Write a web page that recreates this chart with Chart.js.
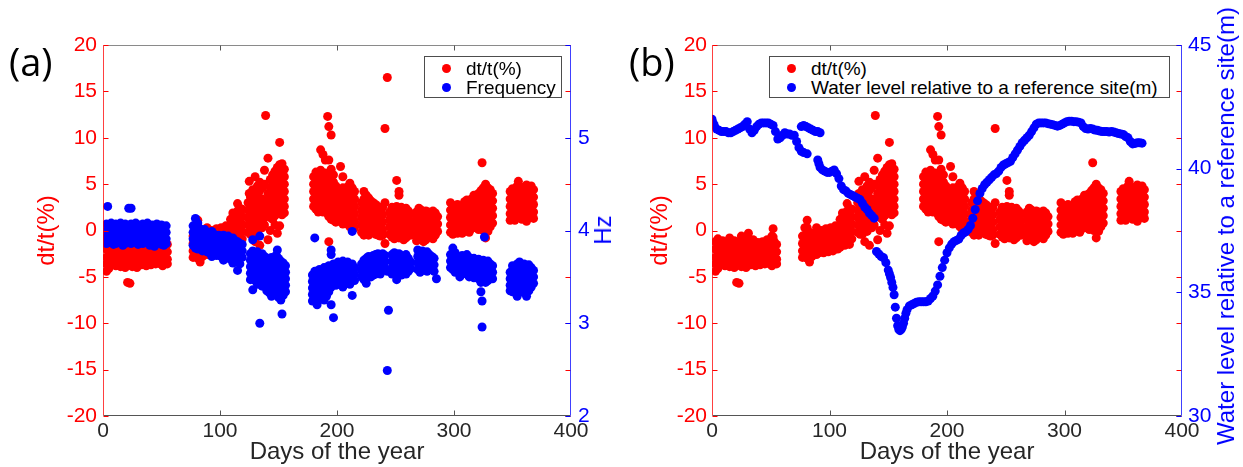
<!DOCTYPE html>
<html>
<head>
<meta charset="utf-8">
<script src="https://cdn.jsdelivr.net/npm/chart.js@4.4.1/dist/chart.umd.min.js"></script>
<style>
  body { margin: 0; background: #fff; width: 1243px; height: 467px; position: relative; overflow: hidden; font-family: 'Liberation Sans', Arial, sans-serif; }
  canvas { position: absolute; top: 0; }
  .panel { position: absolute; font-family: 'Open Sans', sans-serif; font-size: 38px; line-height: 38px; color: #000; }
  .legend { position: absolute; background: #fff; border: 1px solid #4d4d4d; font-size: 19px; color: #000; }
  .legend .row { position: absolute; left: 0; height: 19px; line-height: 19px; white-space: nowrap; padding-left: 41px; }
  .legend .dot { position: absolute; left: 17px; top: 5px; width: 9px; height: 9px; border-radius: 50%; }
  .ylab { position: absolute; font-size: 24px; line-height: 24px; white-space: nowrap; color: #0000ff; transform: translate(-50%, -50%) rotate(-90deg); }
</style>
</head>
<body>
<canvas id="chartA" width="620" height="467" style="left:0"></canvas>
<canvas id="chartB" width="623" height="467" style="left:620px"></canvas>

<div class="panel" style="left:9px;top:42px">(a)</div>
<div class="panel" style="left:629px;top:42px">(b)</div>

<div class="legend" style="left:424px;top:56px;width:136px;height:40px">
  <div class="row" style="top:2px"><span class="dot" style="background:#ff0000"></span>dt/t(%)</div>
  <div class="row" style="top:21px"><span class="dot" style="background:#0000ff"></span>Frequency</div>
</div>
<div class="legend" style="left:769px;top:56px;width:399px;height:40px">
  <div class="row" style="top:2px"><span class="dot" style="background:#ff0000"></span>dt/t(%)</div>
  <div class="row" style="top:21px"><span class="dot" style="background:#0000ff"></span>Water level relative to a reference site(m)</div>
</div>

<div class="ylab" style="left:603px;top:230px">Hz</div>
<div class="ylab" style="left:1226px;top:226px">Water level relative to a reference site(m)</div>

<script>
// dt/t (%) readings: [day, value, value, ...]
const dtJanFeb = [
  [3, -1.2, -2.0, -2.9, -3.6, -4.4], [5, -0.9, -1.7, -2.5, -3.3, -4.1], [7, -1.4, -2.2, -3.0, -3.7],
  [9, -1.1, -1.9, -2.7, -3.4], [11, -1.5, -2.3, -3.1, -3.8], [13, -1.2, -2.0, -2.8, -3.5],
  [15, -0.8, -1.6, -2.4, -3.2, -3.9], [17, -1.3, -2.1, -2.9, -3.6], [19, -1.1, -1.9, -2.7, -3.4, -4.0],
  [21, -1.4, -2.2, -3.0, -3.7, -5.6], [23, -1.2, -2.0, -2.8, -3.5, -5.7], [25, -0.6, -1.5, -2.3, -3.1, -3.9],
  [27, -1.3, -2.1, -2.9, -3.6], [29, -0.9, -1.7, -2.5, -3.3, -4.0], [31, -0.3, -1.2, -2.0, -2.8, -3.6],
  [33, -1.4, -2.2, -3.0, -3.7], [35, -1.0, -1.8, -2.6, -3.4], [37, -1.5, -2.3, -3.1, -3.8],
  [39, -1.3, -2.1, -2.9, -3.6], [41, -1.6, -2.4, -3.2, -3.7], [43, -1.2, -2.0, -2.8, -3.5],
  [45, -1.4, -2.2, -3.0, -3.6], [47, -1.0, -1.8, -2.6, -3.4], [49, -1.3, -2.1, -2.9, -3.6],
  [51, -0.6, -1.5, -2.3, -3.1, -3.8], [52, 0.2, -0.7], [53, -1.2, -2.0, -2.8, -3.5], [55, -1.5, -2.3, -3.1, -3.6]
];
const dtMarApr = [
  [77, -0.6, -1.4, -2.2, -2.9], [79, 0.3, -0.5, -1.2, -1.9, -2.6], [81, 1.1, 0.3, -0.6, -1.4, -2.2, -3.0],
  [83, -0.2, -1.0, -1.8, -2.6, -3.4], [85, -0.5, -1.3, -2.1, -2.8], [87, -0.3, -1.1, -1.9, -2.5],
  [89, 0.3, -0.5, -1.3, -2.1, -2.6], [91, -0.4, -1.2, -2.0, -2.4], [93, 0.0, -0.8, -1.6, -2.3],
  [95, -0.3, -1.1, -1.9, -2.4], [97, 0.2, -0.6, -1.4, -2.2], [99, -0.1, -0.9, -1.7, -2.3],
  [101, 0.3, -0.5, -1.3, -2.0], [103, 0.0, -0.8, -1.6, -2.2], [105, 0.5, -0.3, -1.1, -1.9],
  [107, 0.2, -0.6, -1.4, -2.0], [109, 1.2, 0.4, -0.4, -1.2, -1.8], [111, 1.9, 1.1, 0.3, -0.5, -1.3],
  [113, 1.5, 0.7, -0.1, -0.9, -1.6], [115, 2.9, 2.1, 1.3, 0.5, -0.3, -1.1], [117, 2.4, 1.6, 0.8, 0.0, -0.8, -1.5],
  [119, 2.3, 1.5, 0.7, -0.1, -0.9]
];
const dtMay = [
  [124, 3.0, 2.2, 1.4, 0.6, -0.2], [125, 5.3, 4.0], [126, 3.6, 2.8, 2.0, 1.2, 0.4, -0.4],
  [128, 4.4, 3.6, 2.8, 2.0, 1.2, 0.4, -0.4], [130, 5.8, 4.0, 3.2, 2.4, 1.6, 0.8, 0.0, -1.2],
  [132, 4.8, 3.9, 3.1, 2.3, 1.5, 0.7, -0.1], [134, 5.2, 4.3, 3.5, 2.7, 1.9, 1.1, 0.3, -1.6],
  [136, 4.6, 3.4, 2.6, 1.8, 1.0, 0.3], [138, 6.5, 5.0, 3.0, 2.2, 1.4, 0.6], [139, 12.4],
  [141, 7.8, 4.0, 3.2, 2.4, 1.6, -1.0], [143, 5.5, 4.6, 3.8, 3.0, 2.2, 1.4, 0.0],
  [145, 6.0, 5.2, 4.4, 3.6, 2.8, 2.0, 1.2], [147, 6.4, 5.6, 4.8, 4.0, 3.2, 2.4, 1.6, 0.6],
  [149, 6.8, 6.0, 5.2, 4.4, 3.6, 2.8, 2.0, -0.3], [151, 9.5, 7.1, 6.3, 5.5, 4.7, 3.9, 3.1, 2.3, 0.5],
  [153, 7.2, 6.4, 5.6, 4.8, 4.0, 3.2, 2.4, 1.7], [155, 6.6, 5.8, 5.0, 4.2, 3.4, 2.6, 1.9]
];
const dtJul = [
  [180, 5.8, 5.0, 4.2, 3.4, 2.6], [182, 6.3, 5.5, 4.7, 3.9, 3.1, 2.3], [184, 6.0, 5.2, 4.4, 3.6, 2.8, 2.0],
  [186, 8.7, 6.5, 5.7, 4.9, 4.1, 3.3, 2.5], [188, 8.2, 6.0, 5.2, 4.4, 3.6, 2.8, 2.0],
  [190, 7.6, 6.2, 5.4, 4.6, 3.8, 3.0, 2.2], [192, 12.3, 5.8, 5.0, 4.2, 3.4, 2.6, 1.8], [193, 11.2, 7.6, 1.5, -1.2],
  [195, 10.3, 6.6, 5.4, 4.6, 3.8, 3.0, 2.2, 1.2], [197, 6.0, 5.2, 4.4, 3.6, 2.8, 2.0, 1.1],
  [199, 4.8, 4.0, 3.2, 2.4, 1.6, 0.9], [201, 4.4, 3.6, 2.8, 2.0, 1.2], [203, 6.9, 4.2, 3.4, 2.6, 1.8, 1.0],
  [205, 5.8, 4.6, 3.8, 3.0, 2.2, 1.4, 0.7], [207, 4.3, 3.5, 2.7, 1.9, 1.1], [209, 4.7, 3.9, 3.1, 2.3, 1.5, 0.7],
  [211, 5.1, 4.3, 3.5, 2.7, 1.9, 1.1, 0.4], [213, 4.6, 3.8, 3.0, 2.2, 1.4, 0.6, 0.1], [215, 4.2, 3.4, 2.6, 1.8, 1.0, 0.3]
];
const dtAug = [
  [221, 3.0, 2.2, 1.4, 0.6, -0.2], [223, 4.2, 3.4, 2.6, 1.8, 1.0, 0.2, -0.5], [225, 3.8, 3.0, 2.2, 1.4, 0.6, -0.2],
  [227, 3.5, 2.7, 1.9, 1.1, 0.3, -0.5], [229, 3.2, 2.4, 1.6, 0.8, 0.0], [231, 3.0, 2.2, 1.4, 0.6, -0.2],
  [233, 2.8, 2.0, 1.2, 0.4, -0.4], [235, 2.6, 1.8, 1.0, 0.2, -0.5], [237, 2.4, 1.6, 0.8, 0.0, -0.6],
  [239, 2.5, 1.7, 0.9, 0.1, -0.5], [241, 11.0, 3.0, -1.4], [243, 16.5]
];
const dtSep = [
  [245, 2.0, 1.2, 0.4, -0.4], [247, 2.5, 1.7, 0.9, 0.1, -0.7], [249, 2.2, 1.4, 0.6, -0.2, -0.9],
  [251, 5.4, 2.6, 1.8, 1.0, 0.2, -0.6], [253, 4.2, 3.8, 2.3, 1.5, 0.7, -0.1, -0.8], [255, 2.5, 1.7, 0.9, 0.1, -0.7],
  [257, 2.2, 1.4, 0.6, -0.2, -1.0], [259, 2.4, 1.6, 0.8, 0.0, -0.8], [261, 2.1, 1.3, 0.5, -0.3], [263, 1.8, 1.0, 0.2, -0.5],
  [268, 2.0, 1.2, 0.4, -0.4, -1.1], [270, 2.4, 1.6, 0.8, 0.0, -0.8], [272, 2.2, 1.4, 0.6, -0.2, -1.0],
  [274, 1.9, 1.1, 0.3, -0.5, -1.2], [276, 2.1, 1.3, 0.5, -0.3, -1.0], [278, 2.0, 1.2, 0.4, -0.4],
  [280, 1.8, 1.0, 0.2, -0.6], [282, 2.1, 1.3, 0.5, -0.3, -0.9], [284, 1.9, 1.1, 0.3, -0.5], [286, 1.5, 0.7, -0.1]
];
const dtNov = [
  [297, 3.0, 2.2, 1.4, 0.6, -0.2], [299, 2.7, 1.9, 1.1, 0.3, -0.4], [301, 2.5, 1.7, 0.9, 0.1],
  [303, 2.8, 2.0, 1.2, 0.4, -0.3], [305, 2.4, 1.6, 0.8, 0.0], [307, 2.6, 1.8, 1.0, 0.2, -0.3],
  [309, 3.1, 2.3, 1.5, 0.7, -0.1], [311, 3.3, 2.5, 1.7, 0.9, 0.1], [313, 3.0, 2.2, 1.4, 0.6, -0.2],
  [315, 3.4, 2.6, 1.8, 1.0, 0.2], [317, 3.8, 3.0, 2.2, 1.4, 0.6], [319, 3.5, 2.7, 1.9, 1.1, 0.3],
  [321, 4.0, 3.2, 2.4, 1.6, 0.8, 0.1], [323, 4.3, 3.5, 2.7, 1.9, 1.1, 0.3], [324, 7.3],
  [325, 4.6, 3.8, 3.0, 2.2, 1.4, 0.6, 0.0], [327, 5.0, 4.2, 3.4, 2.6, 1.8, 1.0, 0.2, -0.8],
  [329, 4.6, 3.8, 3.0, 2.2, 1.4, 0.6, -0.1], [331, 4.4, 3.6, 2.8, 2.0, 1.2, 0.4], [333, 4.0, 3.2, 2.4, 1.6, 0.8]
];
const dtDec = [
  [348, 4.2, 3.4, 2.6, 1.8, 1.1], [350, 4.5, 3.7, 2.9, 2.1, 1.3], [352, 4.3, 3.5, 2.7, 1.9, 1.1],
  [354, 4.8, 4.0, 3.2, 2.4, 1.6], [355, 5.3], [356, 4.6, 3.8, 3.0, 2.2, 1.4], [358, 4.4, 3.6, 2.8, 2.0, 1.2],
  [360, 4.7, 3.9, 3.1, 2.3, 1.5], [362, 4.9, 4.1, 3.3, 2.5, 1.7, 1.0], [364, 4.6, 3.8, 3.0, 2.2, 1.4],
  [366, 4.8, 4.0, 3.2, 2.4, 1.6], [368, 4.4, 3.6, 2.8, 2.0, 1.3]
];

// frequency (Hz) readings: [day, value, value, ...]
const hzJanFeb = [
  [3, 4.07, 4.00, 3.93, 3.86], [4, 4.26], [5, 4.04, 3.97, 3.90], [7, 4.08, 4.01, 3.94, 3.87],
  [9, 4.05, 3.98, 3.91, 3.85], [11, 4.07, 4.00, 3.93, 3.86], [13, 4.04, 3.97, 3.90], [15, 4.08, 4.01, 3.94, 3.87],
  [17, 4.05, 3.98, 3.91, 3.84], [19, 4.07, 4.00, 3.93, 3.86], [21, 4.04, 3.97, 3.90], [22, 4.24],
  [24, 4.24, 4.07, 4.00, 3.93, 3.86], [26, 4.05, 3.98, 3.91], [28, 4.08, 4.01, 3.94, 3.87],
  [30, 4.06, 3.99, 3.92, 3.85], [32, 4.04, 3.97, 3.90], [34, 4.07, 4.00, 3.93, 3.86], [36, 4.05, 3.98, 3.91],
  [38, 4.08, 4.01, 3.94, 3.87], [40, 4.05, 3.98, 3.91, 3.84], [42, 4.06, 3.99, 3.92, 3.86],
  [44, 4.04, 3.97, 3.90, 3.83], [46, 4.07, 4.00, 3.93, 3.86], [48, 4.05, 3.98, 3.91],
  [50, 4.06, 3.99, 3.92, 3.85], [52, 4.04, 3.97, 3.90, 3.84], [54, 4.05, 3.98, 3.91, 3.86]
];
const hzMarApr = [
  [77, 4.05, 3.98, 3.91, 3.84], [79, 4.13, 4.02, 3.95, 3.88, 3.81], [81, 4.08, 4.01, 3.94, 3.87, 3.80],
  [83, 4.02, 3.95, 3.88, 3.81], [85, 3.99, 3.92, 3.85, 3.78], [87, 4.01, 3.94, 3.87, 3.80],
  [89, 3.98, 3.91, 3.84, 3.77], [91, 3.97, 3.90, 3.83, 3.76], [93, 3.99, 3.92, 3.85, 3.78, 3.72],
  [95, 3.96, 3.89, 3.82, 3.75], [97, 3.94, 3.87, 3.80, 3.73], [99, 3.95, 3.88, 3.81, 3.74],
  [101, 3.93, 3.86, 3.79, 3.72], [103, 3.95, 3.88, 3.81, 3.74, 3.68], [105, 3.92, 3.85, 3.78, 3.71],
  [107, 3.94, 3.87, 3.80, 3.73], [109, 3.90, 3.83, 3.76, 3.69], [111, 3.92, 3.85, 3.78, 3.71, 3.65],
  [113, 3.89, 3.82, 3.75, 3.68], [115, 3.88, 3.81, 3.74, 3.67, 3.57], [117, 3.86, 3.79, 3.72, 3.64],
  [119, 3.85, 3.78, 3.71]
];
const hzMay = [
  [126, 3.75, 3.68, 3.61, 3.54, 3.47], [128, 3.90, 3.78, 3.71, 3.64, 3.57, 3.50, 3.36],
  [130, 3.74, 3.67, 3.60, 3.53, 3.46], [132, 3.77, 3.70, 3.63, 3.56, 3.49, 3.42],
  [134, 3.94, 3.73, 3.66, 3.59, 3.52, 3.45, 3.00], [136, 3.75, 3.68, 3.61, 3.54, 3.47, 3.40],
  [138, 3.72, 3.65, 3.58, 3.51, 3.44], [140, 3.70, 3.63, 3.56, 3.49, 3.42, 3.35],
  [142, 3.68, 3.61, 3.54, 3.47, 3.40, 3.33], [144, 3.71, 3.64, 3.57, 3.50, 3.43, 3.36, 3.29],
  [146, 3.69, 3.62, 3.55, 3.48, 3.41, 3.34], [148, 3.73, 3.66, 3.59, 3.52, 3.45, 3.38, 3.31], [149, 3.79],
  [150, 3.70, 3.63, 3.56, 3.49, 3.42, 3.35, 3.28], [152, 3.67, 3.60, 3.53, 3.46, 3.39, 3.32, 3.25], [153, 3.10],
  [154, 3.65, 3.58, 3.51, 3.44, 3.37, 3.30], [156, 3.62, 3.55, 3.48, 3.41, 3.34]
];
const hzJul = [
  [179, 3.52, 3.45, 3.38, 3.31, 3.24], [181, 3.92, 3.56, 3.49, 3.42, 3.35, 3.28], [183, 3.54, 3.47, 3.40, 3.33, 3.26, 3.20],
  [185, 3.58, 3.51, 3.44, 3.37, 3.30], [187, 3.55, 3.48, 3.41, 3.34, 3.27], [189, 3.60, 3.53, 3.46, 3.39, 3.32, 3.25],
  [191, 3.57, 3.50, 3.43, 3.36, 3.29], [193, 3.62, 3.55, 3.48, 3.41, 3.34], [195, 3.79, 3.74, 3.60, 3.53, 3.46, 3.39, 3.20],
  [197, 3.64, 3.57, 3.50, 3.43, 3.06], [199, 3.62, 3.55, 3.48, 3.41], [201, 3.66, 3.59, 3.52, 3.45],
  [203, 3.64, 3.57, 3.50, 3.43], [205, 3.67, 3.60, 3.53, 3.46, 3.39], [207, 3.65, 3.58, 3.51, 3.44],
  [209, 3.66, 3.59, 3.52, 3.45], [211, 3.63, 3.56, 3.49, 3.42], [213, 3.99, 3.64, 3.57, 3.50, 3.30], [215, 3.60, 3.53, 3.46]
];
const hzAugOct = [
  [221, 3.64, 3.57, 3.50], [223, 3.68, 3.61, 3.54, 3.47], [225, 3.70, 3.63, 3.56, 3.49, 3.43],
  [227, 3.72, 3.65, 3.58, 3.51], [229, 3.71, 3.64, 3.57, 3.50], [231, 3.73, 3.66, 3.59, 3.52],
  [233, 3.74, 3.67, 3.60, 3.53], [235, 3.75, 3.68, 3.61, 3.54], [237, 3.74, 3.67, 3.60, 3.53],
  [239, 3.75, 3.68, 3.61], [241, 3.73, 3.66, 3.59], [243, 3.56, 2.49], [244, 3.14],
  [247, 3.74, 3.67, 3.60, 3.53], [249, 3.76, 3.69, 3.62, 3.55], [251, 3.72, 3.65, 3.58, 3.51, 3.47],
  [253, 3.75, 3.68, 3.61, 3.54], [255, 3.73, 3.66, 3.59, 3.52], [257, 3.71, 3.64, 3.57],
  [259, 3.74, 3.67, 3.60, 3.53], [261, 3.70, 3.63, 3.56], [263, 3.66, 3.59],
  [269, 3.79, 3.72, 3.65, 3.58], [271, 3.76, 3.69, 3.62, 3.55], [273, 3.78, 3.71, 3.64, 3.57],
  [275, 3.75, 3.68, 3.61], [277, 3.77, 3.70, 3.63, 3.56], [279, 3.74, 3.67, 3.60],
  [281, 3.72, 3.65, 3.58], [283, 3.70, 3.63, 3.56], [285, 3.48]
];
const hzNovDec = [
  [297, 3.74, 3.67, 3.60], [299, 3.81, 3.72, 3.65, 3.58], [301, 3.76, 3.69, 3.62, 3.55], [303, 3.70, 3.63, 3.56],
  [305, 3.66, 3.59, 3.50], [307, 3.73, 3.66, 3.59], [309, 3.70, 3.63, 3.56], [311, 3.74, 3.67, 3.60, 3.53],
  [313, 3.71, 3.64, 3.57, 3.50], [315, 3.68, 3.61, 3.54], [317, 3.70, 3.63, 3.56, 3.49], [319, 3.67, 3.60, 3.53],
  [321, 3.69, 3.62, 3.55, 3.48], [323, 3.66, 3.59, 3.52, 3.44, 3.34], [324, 3.24, 2.96],
  [325, 3.68, 3.61, 3.54, 3.47], [326, 3.93], [327, 3.65, 3.58, 3.51, 3.44], [329, 3.67, 3.60, 3.53, 3.46],
  [331, 3.64, 3.57, 3.50], [333, 3.62, 3.55, 3.48],
  [348, 3.55, 3.48, 3.41, 3.35], [350, 3.62, 3.55, 3.48, 3.41, 3.34], [352, 3.58, 3.51, 3.44, 3.37],
  [354, 3.64, 3.57, 3.50, 3.43, 3.36, 3.29], [356, 3.66, 3.59, 3.52, 3.45, 3.38], [358, 3.62, 3.55, 3.48, 3.41, 3.34],
  [360, 3.64, 3.57, 3.50, 3.43, 3.36], [362, 3.61, 3.54, 3.47, 3.40, 3.33, 3.29], [364, 3.63, 3.56, 3.49, 3.42, 3.35],
  [366, 3.60, 3.53, 3.46, 3.39], [368, 3.57, 3.50, 3.43]
];

// water level (m): [day, level]
const waterLevel = [
  [0, 42.0], [1, 41.85], [2, 41.75], [4, 41.6], [6, 41.55], [8, 41.5], [10, 41.5], [12, 41.5], [14, 41.45],
  [16, 41.45], [18, 41.5], [20, 41.55], [22, 41.6], [24, 41.65], [26, 41.7], [28, 41.8], [30, 41.9], [32, 41.6],
  [34, 41.45], [36, 41.55], [38, 41.7], [40, 41.8], [42, 41.85], [44, 41.85], [46, 41.85], [48, 41.85], [50, 41.8],
  [52, 41.75], [54, 41.5], [56, 41.2], [58, 41.25], [60, 41.35], [62, 41.45], [64, 41.4], [66, 41.4], [68, 41.35],
  [70, 41.35], [72, 41.1], [74, 40.85], [76, 40.7], [78, 40.65], [81, 40.6],
  [76, 41.7], [78, 41.75], [80, 41.7], [82, 41.65], [84, 41.6], [86, 41.55], [88, 41.5], [90, 41.5], [92, 41.45],
  [90, 40.35], [91, 40.2], [92, 40.05], [94, 39.95], [96, 39.9], [98, 39.85], [100, 39.85], [102, 39.9],
  [104, 39.95], [106, 39.8], [108, 39.6], [110, 39.3], [112, 39.15], [114, 39.1], [116, 39.0], [118, 38.95],
  [120, 38.9], [122, 38.85], [124, 38.8], [126, 38.75], [128, 38.6], [130, 38.45], [132, 38.35], [134, 38.2],
  [136, 38.1], [138, 38.0], [140, 36.65], [142, 36.55], [144, 36.45], [146, 36.4], [148, 36.2], [150, 35.9],
  [151, 35.75], [152, 35.6], [153, 35.4], [154, 35.2], [155, 34.9], [156, 34.4], [157, 33.95], [158, 33.65],
  [159, 33.5], [160, 33.45], [161, 33.5], [162, 33.6], [163, 33.75], [164, 33.95], [165, 34.15], [166, 34.3],
  [168, 34.45], [170, 34.5], [172, 34.55], [174, 34.6], [176, 34.62], [178, 34.62], [180, 34.62], [182, 34.62],
  [184, 34.65], [186, 34.75], [188, 34.85], [190, 35.05], [192, 35.3], [194, 35.65], [196, 36.0], [198, 36.3],
  [200, 36.6], [202, 36.8], [204, 36.95], [206, 37.05], [208, 37.1], [210, 37.15], [212, 37.3], [214, 37.4],
  [216, 37.45], [218, 37.55], [220, 37.7], [222, 38.0], [224, 38.35], [226, 38.7], [228, 39.0], [230, 39.2],
  [232, 39.35], [234, 39.45], [236, 39.55], [238, 39.65], [240, 39.75], [242, 39.8], [244, 39.9], [246, 40.05],
  [248, 40.15], [250, 40.2], [252, 40.25], [254, 40.3], [256, 40.45], [258, 40.6], [260, 40.75], [262, 40.9],
  [264, 41.05], [266, 41.15], [268, 41.25], [270, 41.35], [272, 41.5], [274, 41.65], [276, 41.8], [278, 41.85],
  [280, 41.85], [282, 41.85], [284, 41.85], [286, 41.82], [288, 41.8], [290, 41.78], [292, 41.75], [294, 41.72],
  [296, 41.75], [298, 41.8], [300, 41.85], [302, 41.9], [304, 41.92], [306, 41.92], [308, 41.9], [310, 41.9],
  [312, 41.88], [314, 41.85], [316, 41.7], [318, 41.62], [320, 41.6], [322, 41.62], [324, 41.6], [326, 41.56],
  [328, 41.55], [330, 41.52], [332, 41.5], [334, 41.5], [336, 41.5], [338, 41.48], [340, 41.5], [342, 41.48],
  [344, 41.45], [346, 41.42], [348, 41.4], [350, 41.38], [352, 41.3], [354, 41.25], [356, 41.1], [358, 41.0],
  [360, 41.02], [362, 41.05], [364, 41.05], [366, 41.03]
];

const RED = '#ff0000';
const BLUE = '#0000ff';
const FONT = "'Liberation Sans', Arial, sans-serif";

function toPoints(groups) {
    return groups.flat().flatMap(([day, ...vals]) => vals.map(v => ({ x: day, y: v })));
}

const dtPoints = toPoints([dtJanFeb, dtMarApr, dtMay, dtJul, dtAug, dtSep, dtNov, dtDec]);
const hzPoints = toPoints([hzJanFeb, hzMarApr, hzMay, hzJul, hzAugOct, hzNovDec]);
const waterPoints = waterLevel.map(([day, lvl]) => ({ x: day, y: lvl }));

const framePlugin = {
    id: 'frame',
    afterDatasetsDraw(chart) {
        const { ctx, chartArea: a, scales } = chart;
        const L = Math.round(a.left) + 0.5, R = Math.round(a.right) - 0.5;
        const T = Math.round(a.top) + 0.5, B = Math.round(a.bottom) - 0.5;
        const line = (x1, y1, x2, y2, c) => {
            ctx.strokeStyle = c;
            ctx.beginPath(); ctx.moveTo(x1, y1); ctx.lineTo(x2, y2); ctx.stroke();
        };
        ctx.save();
        ctx.lineWidth = 1;
        line(L, T, R, T, '#8a8a8a');
        line(L, B, R, B, '#555');
        scales.x.ticks.forEach(t => {
            const x = Math.round(scales.x.getPixelForValue(t.value)) + 0.5;
            if (x > L + 2 && x < R - 2) { line(x, B, x, B - 5, '#555'); line(x, T, x, T + 5, '#555'); }
        });
        scales.y.ticks.forEach(t => {
            const y = Math.round(scales.y.getPixelForValue(t.value)) + 0.5;
            line(L, y, L + 5, y, RED); line(R, y, R - 5, y, RED);
        });
        scales.y2.ticks.forEach(t => {
            const y = Math.round(scales.y2.getPixelForValue(t.value)) + 0.5;
            line(R, y, R - 5, y, BLUE);
        });
        line(L, T, L, B, 'rgba(255,0,0,0.75)');
        line(R, T, R, B, 'rgba(0,0,255,0.75)');
        ctx.restore();
    }
};

function panelOptions(leftWidth, rightWidth, titlePad, tickPad, y2) {
    return {
        responsive: false,
        animation: false,
        layout: { padding: { top: 45, left: 0, right: 0, bottom: 0 } },
        elements: { point: { radius: 4.5, borderWidth: 0, hoverRadius: 4.5 } },
        plugins: { legend: { display: false }, tooltip: { enabled: false } },
        scales: {
            x: {
                type: 'linear', min: 0, max: 400,
                grid: { display: false, drawTicks: false }, border: { display: false },
                ticks: { stepSize: 100, color: '#262626', padding: 3, maxRotation: 0, font: { family: FONT, size: 21 } },
                title: { display: true, text: 'Days of the year', color: '#262626', padding: { top: 0, bottom: 0 }, font: { family: FONT, size: 24 } },
                afterFit: s => { s.height = 51; }
            },
            y: {
                position: 'left', min: -20, max: 20,
                grid: { display: false, drawTicks: false }, border: { display: false },
                ticks: { stepSize: 5, color: RED, padding: tickPad, font: { family: FONT, size: 21 } },
                title: { display: true, text: 'dt/t(%)', color: RED, padding: { top: titlePad, bottom: 0 }, font: { family: FONT, size: 24 } },
                afterFit: s => { s.width = leftWidth; }
            },
            y2: Object.assign({
                position: 'right',
                grid: { display: false, drawTicks: false }, border: { display: false },
                afterFit: s => { s.width = rightWidth; }
            }, y2)
        }
    };
}

new Chart(document.getElementById('chartA'), {
    type: 'scatter',
    data: {
        datasets: [
            { label: 'dt/t(%)', data: dtPoints, backgroundColor: RED, yAxisID: 'y', order: 1 },
            { label: 'Frequency', data: hzPoints, backgroundColor: BLUE, yAxisID: 'y2', order: 0 }
        ]
    },
    options: panelOptions(103, 49, 33, 6, {
        min: 2, max: 6,
        ticks: { stepSize: 1, color: BLUE, padding: 7, font: { family: FONT, size: 21 }, callback: v => (v === 6 ? '' : v) }
    }),
    plugins: [framePlugin]
});

new Chart(document.getElementById('chartB'), {
    type: 'scatter',
    data: {
        datasets: [
            { label: 'dt/t(%)', data: dtPoints, backgroundColor: RED, yAxisID: 'y', order: 1 },
            { label: 'Water level relative to a reference site(m)', data: waterPoints, backgroundColor: BLUE, yAxisID: 'y2', order: 0 }
        ]
    },
    options: panelOptions(92, 61, 26, 5, {
        min: 30, max: 45,
        ticks: { stepSize: 5, color: BLUE, padding: 6, font: { family: FONT, size: 21 } }
    }),
    plugins: [framePlugin]
});
</script>
</body>
</html>
